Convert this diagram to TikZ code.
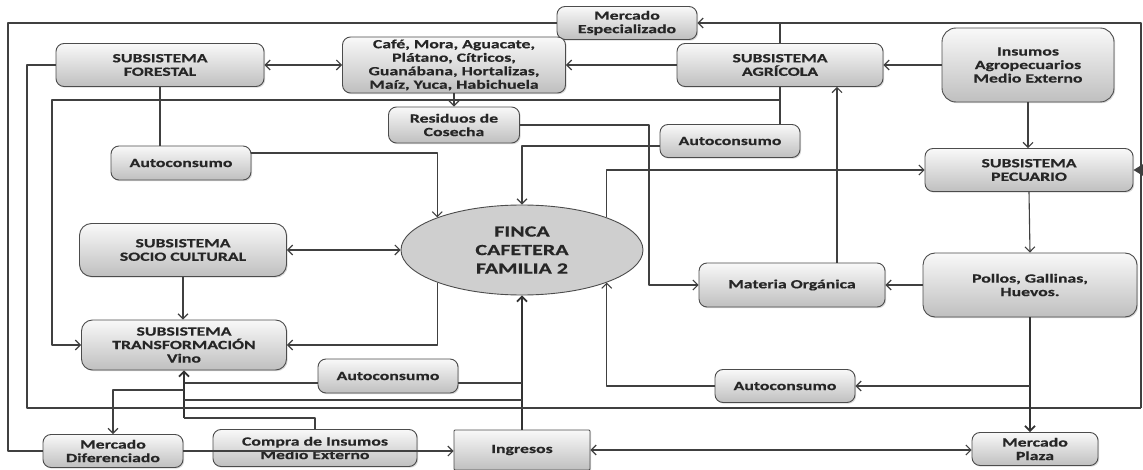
\documentclass[tikz,border=0pt]{standalone}
\usepackage{fontspec}
\setmainfont{Carlito}[FakeStretch=1.42, FakeBold=0.5]
\usetikzlibrary{arrows.meta,shapes.geometric,shadows}

\begin{document}
\begin{tikzpicture}[x=1pt, y=-1pt, line join=round, >={Straight Barb[length=5pt,width=10pt]},
    font=\bfseries\fontsize{12.5}{13.5}\selectfont,
    caja/.style={draw=black!70, line width=0.9pt, rounded corners=8pt, top color=gray!5, bottom color=gray!50,
        align=center, inner sep=2pt, text=black!85, drop shadow={shadow xshift=1.2pt, shadow yshift=-1.2pt, opacity=0.3}},
    linea/.style={draw=black!75, line width=1.1pt},
    gruesa/.style={draw=black!80, line width=1.7pt}]
    \useasboundingbox (0,0) rectangle (1143,470);

    \node[caja, minimum width=140pt, minimum height=33pt] (espec) at (627,23) {Mercado\\Especializado};
    \node[caja, minimum width=208pt, minimum height=43pt] (forestal) at (160,65) {SUBSISTEMA\\FORESTAL};
    \node[caja, minimum width=223pt, minimum height=56pt] (cultivos) at (454,65) {Café, Mora, Aguacate,\\Plátano, Cítricos,\\Guanábana, Hortalizas,\\Maíz, Yuca, Habichuela};
    \node[caja, minimum width=206pt, minimum height=43pt] (agricola) at (780,65) {SUBSISTEMA\\AGRÍCOLA};
    \node[caja, minimum width=172pt, minimum height=74pt, rounded corners=14pt] (insumos) at (1028,65) {Insumos\\Agropecuarios\\Medio Externo};
    \node[caja, minimum width=131pt, minimum height=36pt] (residuos) at (454,125) {Residuos de\\Cosecha};
    \node[caja, minimum width=140pt, minimum height=34pt] (autof) at (181,163) {Autoconsumo};
    \node[caja, minimum width=140pt, minimum height=33pt] (autoa) at (730,141) {Autoconsumo};
    \node[caja, minimum width=208pt, minimum height=43pt] (pecuario) at (1029,170) {SUBSISTEMA\\PECUARIO};
    \node[caja, minimum width=207pt, minimum height=53pt, rounded corners=12pt] (socio) at (183,250) {SUBSISTEMA\\SOCIO CULTURAL};
    \node[ellipse, draw=black!70, line width=0.9pt, fill=gray!38, minimum width=242pt, minimum height=90pt, inner sep=1pt,
        align=center, text=black!85, font=\bfseries\fontsize{15.5}{18.5}\selectfont] (finca) at (522,250) {FINCA\\CAFETERA\\FAMILIA 2};
    \node[caja, minimum width=186pt, minimum height=44pt] (materia) at (792,285) {Materia Orgánica};
    \node[caja, minimum width=214pt, minimum height=64pt, rounded corners=12pt] (pollos) at (1030,285) {Pollos, Gallinas,\\Huevos.};
    \node[caja, minimum width=205pt, minimum height=50pt, rounded corners=11pt] (transf) at (184,345) {SUBSISTEMA\\TRANSFORMACIÓN\\Vino};
    \node[caja, minimum width=140pt, minimum height=34pt] (autoc) at (388,376) {Autoconsumo};
    \node[caja, minimum width=140pt, minimum height=33pt] (autop) at (785,386) {Autoconsumo};
    \node[caja, minimum width=140pt, minimum height=33pt] (mdif) at (113,451) {Mercado\\Diferenciado};
    \node[caja, minimum width=204pt, minimum height=37pt] (compra) at (315,448) {Compra de Insumos\\Medio Externo};
    \node[caja, minimum width=136pt, minimum height=40pt, rounded corners=1pt] (ingresos) at (522,450) {Ingresos};
    \node[caja, minimum width=126pt, minimum height=33pt] (mplaza) at (1035,449) {Mercado\\Plaza};

    \draw[linea] (espec.west) -- (8,23) -- (8,451) -- (mdif.west);
    \draw[linea,->] (mdif.east) -- (ingresos.west |- mdif.east);
    \draw[linea,<->] (ingresos.east) -- (mplaza.west |- ingresos.east);
    \draw[gruesa,->] (ingresos.north) -- (finca.south);
    \draw[linea] ([yshift=-7pt]autoc.east) -- (522,383);
    \draw[linea] ([yshift=-7pt]autoc.west) -- (184,383);
    \draw[gruesa,->] (184,418) -- (transf.south);
    \draw[linea,->] (184,390) -| (mdif.north);
    \draw[linea] (184,400) -- (522,400);
    \draw[linea] (184,418) -| (compra.north);
    \draw[linea] (forestal.west) -- (27,65) -- (27,408) -- (1141,408);
    \draw[linea,->] (agricola.north) |- (espec.east);
    \draw[linea] (780,23) -- (1141,23) -- (1141,408);
    \draw[linea,-{Triangle[length=10pt,width=12pt]}] (1141,170) -- (pecuario.east);
    \draw[linea] (agricola.south) -- (agricola.south |- autoa.north);
    \draw[linea,->] (780,100) -- (52,100) |- (transf.west);
    \draw[linea,<->] (forestal.east) -- (cultivos.west);
    \draw[linea,->] (agricola.west) -- (cultivos.east);
    \draw[linea,->] (insumos.west) -- (agricola.east);
    \draw[linea,->] (insumos.south) -- (insumos.south |- pecuario.north);
    \draw[linea,->] (pecuario.south) -- (pollos.north);
    \draw[linea,->] (pollos.west) -- (materia.east);
    \draw[linea,->] ([xshift=45pt]materia.north) -- ([xshift=45pt]materia.north |- agricola.south);
    \draw[gruesa,->] (pollos.south) -- (pollos.south |- mplaza.north);
    \draw[linea,->] (pollos.south |- autop.east) -- (autop.east);
    \draw[linea,->] (autop.west) -| (finca.-21);
    \draw[linea,->] (residuos.east) -- (649,125) |- (materia.west);
    \draw[linea,->] (cultivos.south) -- (residuos.north);
    \draw[linea,->] ([yshift=-5pt]autoa.west) -| (finca.north);
    \draw[linea] (forestal.south) -- (forestal.south |- autof.north);
    \draw[linea,->] ([yshift=10pt]autof.east) -| (finca.159);
    \draw[linea,<->] (socio.east) -- (finca.west);
    \draw[linea,->] (socio.south) -- (socio.south |- transf.north);
    \draw[linea,->] (finca.201) |- (transf.east);
    \draw[linea,->] (finca.21) |- (pecuario.west);
\end{tikzpicture}
\end{document}
